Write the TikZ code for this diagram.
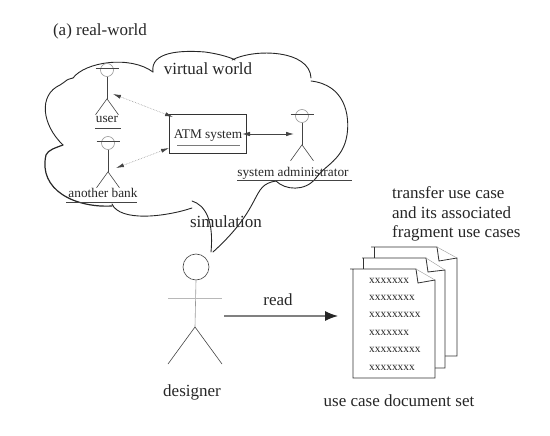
\documentclass[tikz,border=0pt]{standalone}
\usepackage{fontspec}
\setmainfont{Liberation Serif}
\usetikzlibrary{arrows.meta}
\definecolor{mygray}{HTML}{999999}
\definecolor{mydark}{HTML}{444444}
\tikzset{
	bigtext/.style={font=\fontsize{17}{20}\selectfont, inner sep=0pt, text=black!85}
}
\tikzset{
	smalltext/.style={font=\fontsize{13.3}{15}\selectfont, inner sep=0pt, text=black!85}
}
\tikzset{
	xtext/.style={font=\fontsize{11.4}{13}\selectfont, inner sep=0pt, anchor=west, text=black!85},
	cloudline/.style={line width=0.9pt, black!85, line cap=round},
	smalllink/.style={mygray, densely dotted, line width=0.6pt, {Latex[mydark,length=8pt,width=4pt]}-{Latex[mydark,length=8pt,width=4pt]}},
	stickline/.style={line width=0.6pt, mydark},
	pageline/.style={line width=0.8pt, black!80}
}
\begin{document}
\begin{tikzpicture}[x=1pt, y=-1pt]
      \useasboundingbox (0,0) rectangle (550,436);
      \node[bigtext] (title) at (100,31) {(a) real-world};
      % cloud, one stroke per lobe
      \draw[cloudline] (63,145) .. controls (42,125) and (38,95) .. (60,85) .. controls (68,80) and (65,80) .. (73,78);
      \draw[cloudline] (73,78) .. controls (85,62) and (130,55) .. (153,72);
      \draw[cloudline] (153,72) .. controls (150,52) and (180,50) .. (205,52) .. controls (220,54) and (232,58) .. (235,60);
      \draw[cloudline] (232,60) .. controls (255,48) and (310,50) .. (311,78);
      \draw[cloudline] (311,81) .. controls (345,85) and (350,115) .. (347,135) .. controls (343,160) and (325,165) .. (316,178);
      \draw[cloudline] (276,181) .. controls (285,190) and (305,192) .. (316,178);
      \draw[cloudline] (276,181) .. controls (250,185) and (265,205) .. (213,252);
      \draw[cloudline] (211,252) .. controls (214,220) and (205,205) .. (192,201);
      \draw[cloudline] (192,208) .. controls (165,217) and (120,222) .. (112,204);
      \draw[cloudline, line width=1.2pt] (112,206) .. controls (75,208) and (38,190) .. (46,155) .. controls (48,150) and (55,148) .. (63,145);
      \node[bigtext] (world) at (208,69) {virtual world};
      \node[bigtext] (sim) at (226,222) {simulation};
      % small actors
      \foreach \n/\x/\y in {user/107/70, bank/108/143, admin/302/116} {
        \node[draw=mygray, circle, minimum size=13pt, inner sep=0pt, line width=0.6pt] (\n head) at (\x,\y) {};
        \draw[stickline] (\n head.south) -- ++(0,22) coordinate (\n hip);
        \draw[stickline] ([xshift=-11.5pt,yshift=8pt]\n head.south) -- ++(23,0);
        \draw[stickline] (\n hip) -- ++(-11.5,16);
        \draw[stickline] (\n hip) -- ++(11.5,16);
      }
      \node[smalltext] (userlabel) at (107,119) {user};
      \node[smalltext] (banklabel) at (103,193) {another bank};
      \node[smalltext] (adminlabel) at (293,173) {system administrator};
      \draw[stickline] (95,128) -- (121,128);
      \draw[stickline] (66,202) -- (137,202);
      \draw[stickline] (237,180) -- (352,180);
      % ATM box
      \node[draw, line width=0.8pt, black!80, minimum width=77pt, minimum height=39pt, inner sep=0pt] (atm) at (207.5,133.5) {};
      \node[smalltext] (atmlabel) at (208,136) {ATM system};
      \draw[line width=1pt, mygray!80!black] (177,146) -- (240,146);
      \coordinate (userport) at (113,94);
      \coordinate (atmtop) at (173,117);
      \coordinate (bankport) at (116,168);
      \coordinate (atmside) at (169,148);
      \coordinate (atmright) at (242,134);
      \coordinate (adminport) at (294,134);
      \draw[smalllink] (userport) -- (atmtop);
      \draw[smalllink] (bankport) -- (atmside);
      \draw[line width=0.8pt, mydark, {Latex[length=8pt,width=4.5pt]}-{Latex[length=8pt,width=4.5pt]}] (atmright) -- (adminport);
      % designer
      \node[draw=mydark, circle, minimum size=26pt, inner sep=0pt, line width=0.6pt] (designerhead) at (196,267) {};
      \draw[stickline, mygray] (designerhead.south) -- (195,327) coordinate (designerhip);
      \draw[line width=0.8pt, mygray!70] (168,298) -- (222,298);
      \draw[stickline] (designerhip) -- (168,364);
      \draw[stickline] (designerhip) -- (222,364);
      \node[bigtext] (designer) at (192,392) {designer};
      \coordinate (readstart) at (224,316);
      \coordinate (readend) at (338,316);
      \draw[line width=1.2pt, gray, -{Latex[black!85,length=13pt,width=10pt]}] (readstart) -- (readend);
      \node[bigtext] (read) at (278,300) {read};
      % pages, back to front
      \draw[pageline] (371,247) -- (437,247) -- (439,261) -- (457,258) -- (457,356) -- (445,356);
      \draw[pageline] (374,247) -- (374,258);
      \draw[mygray, line width=0.4pt] (437,247) -- (457,258);
      \draw[pageline] (362,258) -- (426,258) -- (428,272) -- (445,270) -- (445,368) -- (435,368);
      \draw[pageline] (363,258) -- (363,269);
      \draw[mygray, line width=0.4pt] (426,258) -- (445,270);
      \draw[pageline] (350,269) -- (416,269) -- (418,283) -- (435,280) -- (435,378) -- (353,378) -- (353,269);
      \draw[mygray, line width=0.4pt] (416,269) -- (435,280);
      \foreach \y/\l in {281/xxxxxxx, 298/xxxxxxxx, 315/xxxxxxxxx, 333/xxxxxxx, 350/xxxxxxxxx, 368/xxxxxxxx}
        \node[xtext] (line\y) at (369,\y) {\l};
      \node[bigtext, anchor=west] (transfer) at (392,193) {transfer use case};
      \node[bigtext, anchor=west] (assoc) at (392,213) {and its associated};
      \node[bigtext, anchor=west] (fragment) at (392,233) {fragment use cases};
      \node[bigtext] (docset) at (399,401) {use case document set};
    \end{tikzpicture}
\end{document}
